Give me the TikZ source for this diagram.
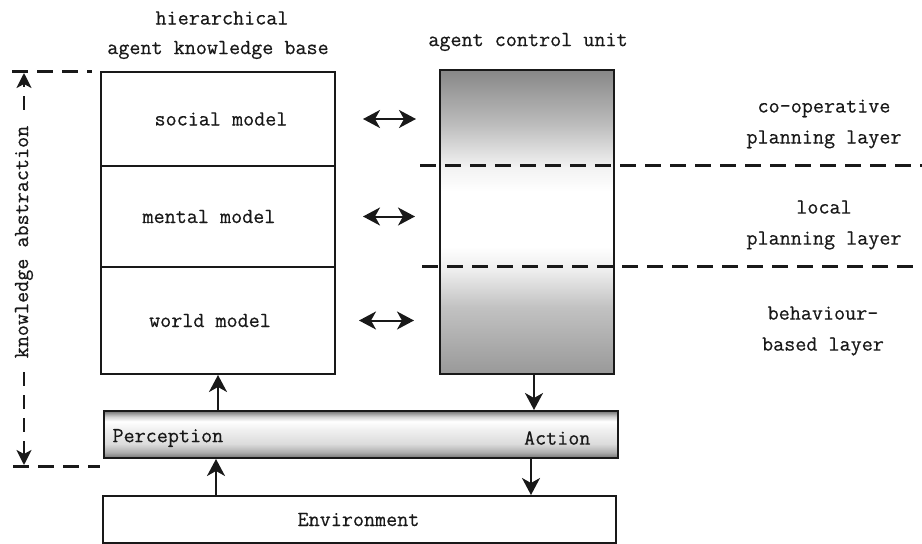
\documentclass[tikz,border=0pt]{standalone}
\usepackage{fontspec}
\usetikzlibrary{arrows.meta}

\newfontfamily\diagfont{Latin Modern Mono}[FakeBold=0.5]

% vertical shadings (the middle 25bp..75bp band covers the filled shape)
\pgfdeclareverticalshading{cushade}{100bp}{%
  color(0bp)=(black!40); color(25bp)=(black!40); color(36bp)=(black!24);
  color(42bp)=(black!7); color(46bp)=(white); color(55bp)=(white);
  color(59bp)=(black!5); color(66bp)=(black!26); color(75bp)=(black!47);
  color(100bp)=(black!47)}
\pgfdeclareverticalshading{barshade}{100bp}{%
  color(0bp)=(black!55); color(25bp)=(black!55); color(31bp)=(black!32);
  color(40bp)=(black!14); color(55bp)=(black!6); color(64bp)=(white);
  color(69bp)=(black!18); color(75bp)=(black!55); color(100bp)=(black!55)}

\tikzset{
  txt/.style={font=\diagfont\fontsize{21.5}{31}\selectfont, text=black!90},
  modelbox/.style={draw=black!90, line width=2pt, anchor=north west,
    minimum width=234pt, inner sep=0pt, txt},
  wide/.style={draw=black!90, line width=2pt, anchor=north west,
    minimum width=514pt, minimum height=47pt, inner sep=0pt},
  arr/.style={line width=2pt, draw=black!90, -{Stealth[length=17pt,width=18pt,inset=5pt]}},
  dbl/.style={line width=2pt, draw=black!90,
    {Stealth[length=17pt,width=18pt,inset=5pt]}-{Stealth[length=17pt,width=18pt,inset=5pt]}},
  layerline/.style={line width=3pt, draw=black!90, dash pattern=on 16pt off 9pt},
  absline/.style={line width=2.5pt, draw=black!90, dash pattern=on 14pt off 9pt},
}

\begin{document}
\begin{tikzpicture}[x=1pt, y=-1pt]
\useasboundingbox (0,0) rectangle (922,544);

% titles
\node[txt] (t1) at (222,18) {hierarchical};
\node[txt] (t2) at (218,50) {agent knowledge base};
\node[txt] (t3) at (528,42) {agent control unit};

% knowledge base: three stacked models
\node[modelbox, minimum height=94pt]  (social) at (100,71)  {\hspace*{6pt}social model};
\node[modelbox, minimum height=101pt] (mental) at (100,165) {\hspace*{-18pt}mental model};
\node[modelbox, minimum height=107pt] (world)  at (100,266) {\hspace*{-16pt}world model};

% agent control unit
\node[draw=black!90, line width=2pt, anchor=north west, minimum width=174pt,
      minimum height=304pt, shading=cushade] (cu) at (439,69) {};

% layer boundaries
\coordinate (l1a) at (420,165); \coordinate (l1b) at (922,165);
\coordinate (l2a) at (422,266); \coordinate (l2b) at (922,266);
\draw[layerline] (l1a) -- (l1b);
\draw[layerline] (l2a) -- (l2b);

% layer labels
\node[txt, align=center] (lay1) at (824,124) {co-operative\\planning layer};
\node[txt, align=center] (lay2) at (824,225) {local\\planning layer};
\node[txt, align=center] (lay3) at (823,331) {behaviour-\\based layer};

% model <-> control unit
\draw[dbl] ([xshift=27pt]social.east) -- ([xshift=-23pt]cu.west |- social.east);
\draw[dbl] ([xshift=27pt]mental.east) -- ([xshift=-24pt]cu.west |- mental.east);
\draw[dbl] ([xshift=23pt]world.east)  -- ([xshift=-25pt]cu.west |- world.east);

% perception / action bar
\node[wide, shading=barshade] (bar) at (103,410) {};
\node[txt, anchor=west] (perc) at (109,438) {Perception};
\node[txt, anchor=east] (act) at (594,438) {Action};

% environment
\node[wide, minimum width=513pt, txt] (env) at (102,495) {\hspace*{-2pt}Environment};

% flow arrows
\draw[arr] (world.south |- bar.north) -- (world.south);
\draw[arr] ([xshift=7pt]cu.south) -- ([xshift=7pt]cu.south |- bar.north);
\draw[arr] ([xshift=-2pt]world.south |- env.north) -- ([xshift=-2pt]world.south |- bar.south);
\draw[arr] ([xshift=4pt]cu.south |- bar.south) -- ([xshift=4pt]cu.south |- env.north);

% knowledge abstraction scale
\coordinate (h1a) at (12,71);  \coordinate (h1b) at (92,71);
\coordinate (h2a) at (13,466); \coordinate (h2b) at (100,466);
\draw[layerline] (h1a) -- (h1b);
\draw[layerline] (h2a) -- (h2b);
\coordinate (ktop) at (24,73);
\coordinate (kbot) at (24,465);
\draw[absline, {Stealth[length=15pt,width=15pt,inset=4pt]}-{Stealth[length=15pt,width=15pt,inset=4pt]}]
  (kbot) -- (ktop);
\node[txt, fill=white, rotate=90, inner xsep=8pt, inner ysep=3pt] (kabs) at (24,242) {knowledge abstraction};

\end{tikzpicture}
\end{document}
